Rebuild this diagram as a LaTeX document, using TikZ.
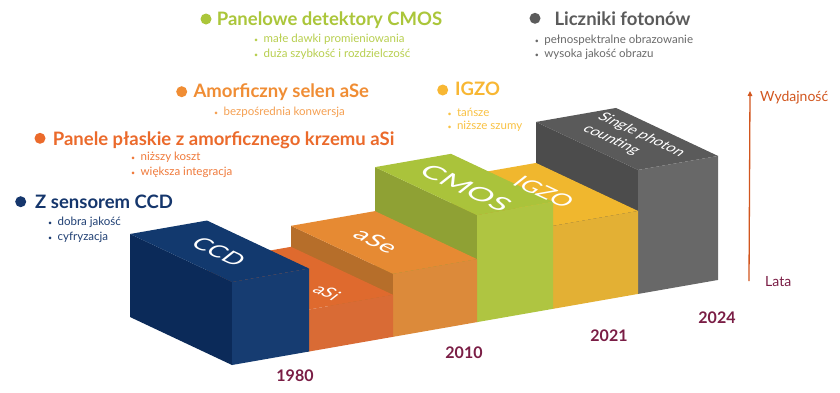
\documentclass[tikz,border=0pt]{standalone}
\usepackage{fontspec}
\setmainfont{Lato}
\usetikzlibrary{arrows.meta,calc}

% block faces
\definecolor{photontop}{HTML}{5A5A5A}
\definecolor{photonfront}{HTML}{686868}
\definecolor{photonleft}{HTML}{4C4C4C}
\definecolor{igzotop}{HTML}{F0B72E}
\definecolor{igzofront}{HTML}{E3B034}
\definecolor{igzoleft}{HTML}{C7962A}
\definecolor{cmostop}{HTML}{AAC33B}
\definecolor{cmosfront}{HTML}{AFC541}
\definecolor{cmosleft}{HTML}{8FA134}
\definecolor{asetop}{HTML}{E68A33}
\definecolor{asefront}{HTML}{DC8A3A}
\definecolor{aseleft}{HTML}{B66E2A}
\definecolor{asitop}{HTML}{DF6A2E}
\definecolor{asifront}{HTML}{D96B35}
\definecolor{asileft}{HTML}{B5561F}
\definecolor{ccdtop}{HTML}{12396E}
\definecolor{ccdfront}{HTML}{163C71}
\definecolor{ccdleft}{HTML}{0B2A59}
% texts
\definecolor{ccdhead}{HTML}{15366C}
\definecolor{ccdsub}{HTML}{1F3F73}
\definecolor{asihead}{HTML}{EB6A2B}
\definecolor{asisub}{HTML}{F07A3B}
\definecolor{asehead}{HTML}{F08D34}
\definecolor{asesub}{HTML}{F5A052}
\definecolor{cmoshead}{HTML}{ABC63A}
\definecolor{cmossub}{HTML}{B8CF4F}
\definecolor{photonhead}{HTML}{5B5B5B}
\definecolor{photonsub}{HTML}{6A6A6A}
\definecolor{igzohead}{HTML}{F8B733}
\definecolor{igzosub}{HTML}{F9C244}
\definecolor{yearred}{HTML}{7A1D45}
\definecolor{axisorange}{HTML}{D2561E}

\newcommand{\pt}[1]{\makebox[9.5pt][l]{{\fontsize{7}{7}\selectfont\textbullet}}#1}

\begin{document}
\begin{tikzpicture}[x=1pt,y=-1pt,
  head/.style={anchor=base west,inner sep=0pt,font=\bfseries\fontsize{18.5}{20}\selectfont},
  point/.style={anchor=base west,inner sep=0pt,font=\fontsize{11.5}{13}\selectfont},
  headdot/.style={circle,fill,inner sep=0pt,minimum size=11pt},
  year/.style={text=yearred,font=\bfseries\fontsize{16}{18}\selectfont},
  onblock/.style={text=white,inner sep=0pt,rotate=-25,xslant=0.5,font=\fontsize{19}{20}\selectfont},
  axisline/.style={draw=axisorange,line width=1.3pt,-{Triangle[length=5pt,width=4.5pt]}}]
  \fill[white] (0,0) rectangle (840,392);
  \useasboundingbox (0,0) rectangle (840,392);

  % steps, back to front
  \foreach \xa/\xb/\h/\n in {638/718/124/photon,553/638/83/igzo,477/553/107/cmos,
                             393/477/63/ase,309/393/42/asi,232/309/83/ccd}{
    \pgfmathsetmacro\ya{365-0.175*(\xa-232)}
    \pgfmathsetmacro\yb{365-0.175*(\xb-232)}
    \coordinate (bl) at (\xa,\ya);
    \coordinate (br) at (\xb,\yb);
    \coordinate (tl) at (\xa,\ya-\h);
    \coordinate (tr) at (\xb,\yb-\h);
    \fill[fill=\n left] (bl) -- (tl) -- ++(-102,-48) -- ($(bl)+(-102,-48)$) -- cycle;
    \fill[fill=\n top] (tl) -- (tr) -- ++(-102,-48) -- ($(tl)+(-102,-48)$) -- cycle;
    \fill[fill=\n front] (bl) -- (br) -- (tr) -- (tl) -- cycle;
  }

  \node[onblock,xscale=1.3] (ccdlabel) at (219,252) {CCD};
  \node[onblock,xscale=1.15,font=\fontsize{16}{18}\selectfont] (asilabel) at (327,292) {aSi};
  \node[onblock,xscale=1.4] (aselabel) at (376,241) {aSe};
  \node[onblock,xscale=1.5,font=\fontsize{21}{22}\selectfont] (cmoslabel) at (466,188) {CMOS};
  \node[onblock,xscale=1.3] (igzolabel) at (544,192) {IGZO};
  \node[onblock,xscale=1.12,align=left,font=\fontsize{13.5}{17}\selectfont] (photonlabel) at (634,141)
    {Single photon\\counting};

  % lists
  \node[headdot,ccdhead] (ccddot) at (20.7,201.7) {};
  \node[head,text=ccdhead] (ccdtitle) at (35,208.3) {Z sensorem CCD};
  \node[point,text=ccdsub] (ccdpt1) at (48,225) {\pt{dobra jakość}};
  \node[point,text=ccdsub] (ccdpt2) at (48,240) {\pt{cyfryzacja}};

  \node[headdot,asihead] (asidot) at (40,138.3) {};
  \node[head,text=asihead] (asititle) at (52.7,145.7) {Panele płaskie z amorficznego krzemu aSi};
  \node[point,text=asisub] (asipt1) at (131,160) {\pt{niższy koszt}};
  \node[point,text=asisub] (asipt2) at (131,175) {\pt{większa integracja}};

  \node[headdot,asehead] (asedot) at (181.7,91.7) {};
  \node[head,text=asehead] (asetitle) at (193.3,97.7) {Amorficzny selen aSe};
  \node[point,text=asesub] (asept1) at (214,115) {\pt{bezpośrednia konwersja}};

  \node[headdot,cmoshead] (cmosdot) at (206,19) {};
  \node[head,text=cmoshead] (cmostitle) at (216.7,25) {Panelowe detektory CMOS};
  \node[point,text=cmossub] (cmospt1) at (254,42.7) {\pt{małe dawki promieniowania}};
  \node[point,text=cmossub] (cmospt2) at (254,57.3) {\pt{duża szybkość i rozdzielczość}};

  \node[headdot,photonhead] (photondot) at (535,18.3) {};
  \node[head,text=photonhead] (photontitle) at (554.3,25) {Liczniki fotonów};
  \node[point,text=photonsub] (photonpt1) at (534.7,43.3) {\pt{pełnospektralne obrazowanie}};
  \node[point,text=photonsub] (photonpt2) at (534.7,57.3) {\pt{wysoka jakość obrazu}};

  \node[headdot,igzohead] (igzodot) at (442.7,90) {};
  \node[head,text=igzohead] (igzotitle) at (455,95) {IGZO};
  \node[point,text=igzosub] (igzopt1) at (447.3,116) {\pt{tańsze}};
  \node[point,text=igzosub] (igzopt2) at (447.3,129.3) {\pt{niższe szumy}};

  % years
  \node[year] (y1980) at (295,376) {1980};
  \node[year] (y2010) at (464,353) {2010};
  \node[year] (y2021) at (609,336) {2021};
  \node[year] (y2024) at (717,318) {2024};

  % axis
  \coordinate (axbot) at (749,281);
  \coordinate (axtop) at (750,91);
  \draw[axisline] (axbot) -- (axtop);
  \node[anchor=base west,inner sep=0pt,text=axisorange,font=\fontsize{14}{16}\selectfont]
    (perf) at (760,101.7) {Wydajność};
  \node[anchor=base west,inner sep=0pt,text=yearred,font=\fontsize{14}{16}\selectfont]
    (years) at (765,286.7) {Lata};
\end{tikzpicture}
\end{document}
